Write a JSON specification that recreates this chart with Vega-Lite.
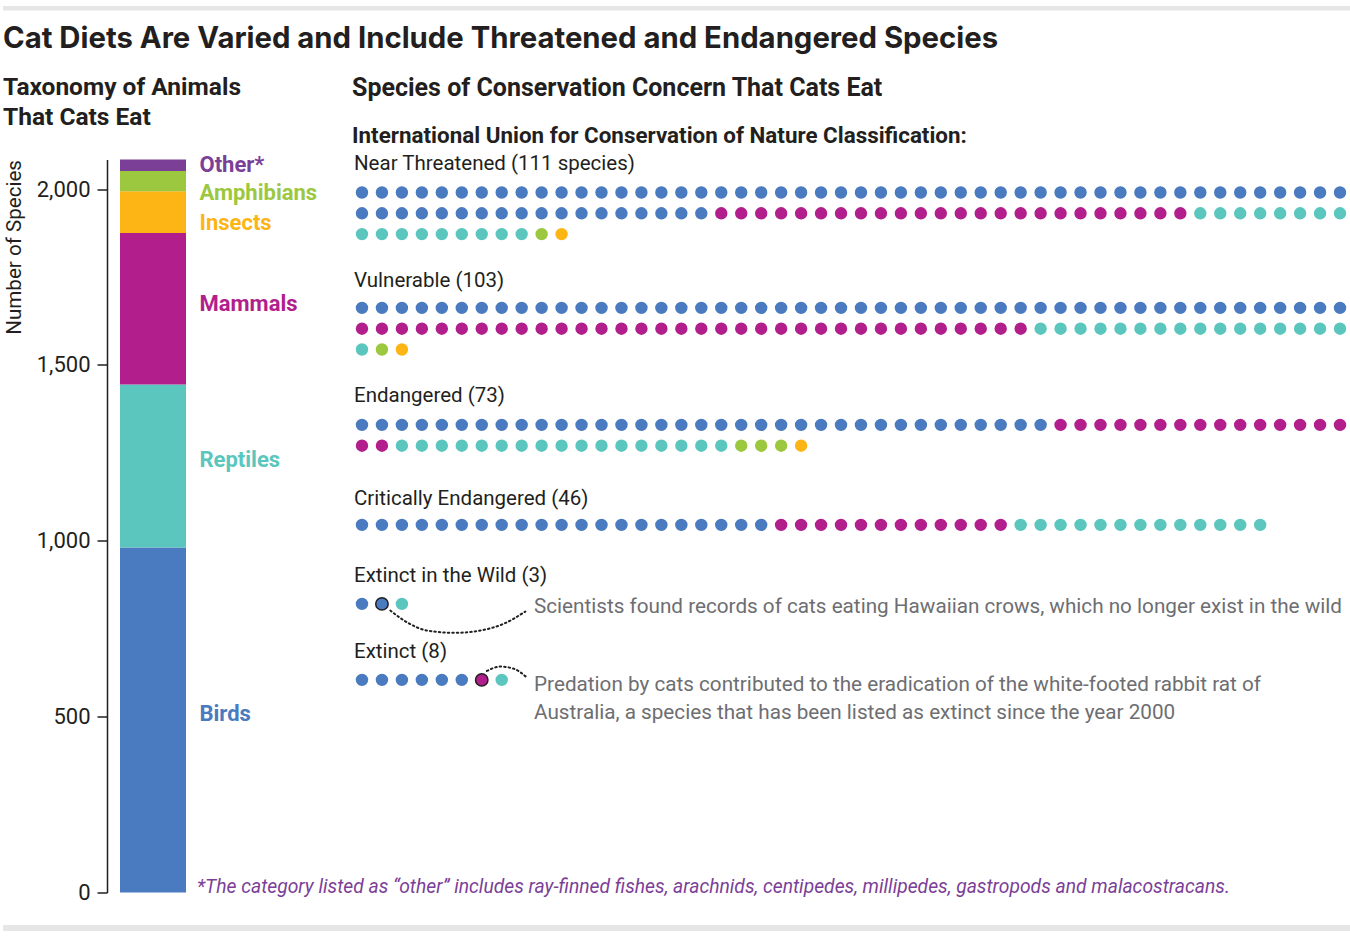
{
  "$schema": "https://vega.github.io/schema/vega-lite/v6.json",
  "background": "white",
  "padding": {"left": 3, "top": 5, "right": 0, "bottom": 0},
  "config": {"font": "Roboto", "view": {"stroke": null}},
  "spacing": 13.5,
  "datasets": {
    "taxa": [
      {"group": "Birds", "species": 981, "rank": 1},
      {"group": "Reptiles", "species": 463, "rank": 2},
      {"group": "Mammals", "species": 431, "rank": 3},
      {"group": "Insects", "species": 119, "rank": 4},
      {"group": "Amphibians", "species": 57, "rank": 5},
      {"group": "Other*", "species": 33, "rank": 6}
    ],
    "nt": [
      {"col":0,"row":0,"taxon":"Birds"},{"col":1,"row":0,"taxon":"Birds"},{"col":2,"row":0,"taxon":"Birds"},{"col":3,"row":0,"taxon":"Birds"},{"col":4,"row":0,"taxon":"Birds"},{"col":5,"row":0,"taxon":"Birds"},{"col":6,"row":0,"taxon":"Birds"},{"col":7,"row":0,"taxon":"Birds"},{"col":8,"row":0,"taxon":"Birds"},{"col":9,"row":0,"taxon":"Birds"},
      {"col":10,"row":0,"taxon":"Birds"},{"col":11,"row":0,"taxon":"Birds"},{"col":12,"row":0,"taxon":"Birds"},{"col":13,"row":0,"taxon":"Birds"},{"col":14,"row":0,"taxon":"Birds"},{"col":15,"row":0,"taxon":"Birds"},{"col":16,"row":0,"taxon":"Birds"},{"col":17,"row":0,"taxon":"Birds"},{"col":18,"row":0,"taxon":"Birds"},{"col":19,"row":0,"taxon":"Birds"},
      {"col":20,"row":0,"taxon":"Birds"},{"col":21,"row":0,"taxon":"Birds"},{"col":22,"row":0,"taxon":"Birds"},{"col":23,"row":0,"taxon":"Birds"},{"col":24,"row":0,"taxon":"Birds"},{"col":25,"row":0,"taxon":"Birds"},{"col":26,"row":0,"taxon":"Birds"},{"col":27,"row":0,"taxon":"Birds"},{"col":28,"row":0,"taxon":"Birds"},{"col":29,"row":0,"taxon":"Birds"},
      {"col":30,"row":0,"taxon":"Birds"},{"col":31,"row":0,"taxon":"Birds"},{"col":32,"row":0,"taxon":"Birds"},{"col":33,"row":0,"taxon":"Birds"},{"col":34,"row":0,"taxon":"Birds"},{"col":35,"row":0,"taxon":"Birds"},{"col":36,"row":0,"taxon":"Birds"},{"col":37,"row":0,"taxon":"Birds"},{"col":38,"row":0,"taxon":"Birds"},{"col":39,"row":0,"taxon":"Birds"},
      {"col":40,"row":0,"taxon":"Birds"},{"col":41,"row":0,"taxon":"Birds"},{"col":42,"row":0,"taxon":"Birds"},{"col":43,"row":0,"taxon":"Birds"},{"col":44,"row":0,"taxon":"Birds"},{"col":45,"row":0,"taxon":"Birds"},{"col":46,"row":0,"taxon":"Birds"},{"col":47,"row":0,"taxon":"Birds"},{"col":48,"row":0,"taxon":"Birds"},{"col":49,"row":0,"taxon":"Birds"},
      {"col":0,"row":1,"taxon":"Birds"},{"col":1,"row":1,"taxon":"Birds"},{"col":2,"row":1,"taxon":"Birds"},{"col":3,"row":1,"taxon":"Birds"},{"col":4,"row":1,"taxon":"Birds"},{"col":5,"row":1,"taxon":"Birds"},{"col":6,"row":1,"taxon":"Birds"},{"col":7,"row":1,"taxon":"Birds"},{"col":8,"row":1,"taxon":"Birds"},{"col":9,"row":1,"taxon":"Birds"},
      {"col":10,"row":1,"taxon":"Birds"},{"col":11,"row":1,"taxon":"Birds"},{"col":12,"row":1,"taxon":"Birds"},{"col":13,"row":1,"taxon":"Birds"},{"col":14,"row":1,"taxon":"Birds"},{"col":15,"row":1,"taxon":"Birds"},{"col":16,"row":1,"taxon":"Birds"},{"col":17,"row":1,"taxon":"Birds"},{"col":18,"row":1,"taxon":"Mammals"},{"col":19,"row":1,"taxon":"Mammals"},
      {"col":20,"row":1,"taxon":"Mammals"},{"col":21,"row":1,"taxon":"Mammals"},{"col":22,"row":1,"taxon":"Mammals"},{"col":23,"row":1,"taxon":"Mammals"},{"col":24,"row":1,"taxon":"Mammals"},{"col":25,"row":1,"taxon":"Mammals"},{"col":26,"row":1,"taxon":"Mammals"},{"col":27,"row":1,"taxon":"Mammals"},{"col":28,"row":1,"taxon":"Mammals"},{"col":29,"row":1,"taxon":"Mammals"},
      {"col":30,"row":1,"taxon":"Mammals"},{"col":31,"row":1,"taxon":"Mammals"},{"col":32,"row":1,"taxon":"Mammals"},{"col":33,"row":1,"taxon":"Mammals"},{"col":34,"row":1,"taxon":"Mammals"},{"col":35,"row":1,"taxon":"Mammals"},{"col":36,"row":1,"taxon":"Mammals"},{"col":37,"row":1,"taxon":"Mammals"},{"col":38,"row":1,"taxon":"Mammals"},{"col":39,"row":1,"taxon":"Mammals"},
      {"col":40,"row":1,"taxon":"Mammals"},{"col":41,"row":1,"taxon":"Mammals"},{"col":42,"row":1,"taxon":"Reptiles"},{"col":43,"row":1,"taxon":"Reptiles"},{"col":44,"row":1,"taxon":"Reptiles"},{"col":45,"row":1,"taxon":"Reptiles"},{"col":46,"row":1,"taxon":"Reptiles"},{"col":47,"row":1,"taxon":"Reptiles"},{"col":48,"row":1,"taxon":"Reptiles"},{"col":49,"row":1,"taxon":"Reptiles"},
      {"col":0,"row":2,"taxon":"Reptiles"},{"col":1,"row":2,"taxon":"Reptiles"},{"col":2,"row":2,"taxon":"Reptiles"},{"col":3,"row":2,"taxon":"Reptiles"},{"col":4,"row":2,"taxon":"Reptiles"},{"col":5,"row":2,"taxon":"Reptiles"},{"col":6,"row":2,"taxon":"Reptiles"},{"col":7,"row":2,"taxon":"Reptiles"},{"col":8,"row":2,"taxon":"Reptiles"},{"col":9,"row":2,"taxon":"Amphibians"},
      {"col":10,"row":2,"taxon":"Insects"}
    ],
    "vu": [
      {"col":0,"row":0,"taxon":"Birds"},{"col":1,"row":0,"taxon":"Birds"},{"col":2,"row":0,"taxon":"Birds"},{"col":3,"row":0,"taxon":"Birds"},{"col":4,"row":0,"taxon":"Birds"},{"col":5,"row":0,"taxon":"Birds"},{"col":6,"row":0,"taxon":"Birds"},{"col":7,"row":0,"taxon":"Birds"},{"col":8,"row":0,"taxon":"Birds"},{"col":9,"row":0,"taxon":"Birds"},
      {"col":10,"row":0,"taxon":"Birds"},{"col":11,"row":0,"taxon":"Birds"},{"col":12,"row":0,"taxon":"Birds"},{"col":13,"row":0,"taxon":"Birds"},{"col":14,"row":0,"taxon":"Birds"},{"col":15,"row":0,"taxon":"Birds"},{"col":16,"row":0,"taxon":"Birds"},{"col":17,"row":0,"taxon":"Birds"},{"col":18,"row":0,"taxon":"Birds"},{"col":19,"row":0,"taxon":"Birds"},
      {"col":20,"row":0,"taxon":"Birds"},{"col":21,"row":0,"taxon":"Birds"},{"col":22,"row":0,"taxon":"Birds"},{"col":23,"row":0,"taxon":"Birds"},{"col":24,"row":0,"taxon":"Birds"},{"col":25,"row":0,"taxon":"Birds"},{"col":26,"row":0,"taxon":"Birds"},{"col":27,"row":0,"taxon":"Birds"},{"col":28,"row":0,"taxon":"Birds"},{"col":29,"row":0,"taxon":"Birds"},
      {"col":30,"row":0,"taxon":"Birds"},{"col":31,"row":0,"taxon":"Birds"},{"col":32,"row":0,"taxon":"Birds"},{"col":33,"row":0,"taxon":"Birds"},{"col":34,"row":0,"taxon":"Birds"},{"col":35,"row":0,"taxon":"Birds"},{"col":36,"row":0,"taxon":"Birds"},{"col":37,"row":0,"taxon":"Birds"},{"col":38,"row":0,"taxon":"Birds"},{"col":39,"row":0,"taxon":"Birds"},
      {"col":40,"row":0,"taxon":"Birds"},{"col":41,"row":0,"taxon":"Birds"},{"col":42,"row":0,"taxon":"Birds"},{"col":43,"row":0,"taxon":"Birds"},{"col":44,"row":0,"taxon":"Birds"},{"col":45,"row":0,"taxon":"Birds"},{"col":46,"row":0,"taxon":"Birds"},{"col":47,"row":0,"taxon":"Birds"},{"col":48,"row":0,"taxon":"Birds"},{"col":49,"row":0,"taxon":"Birds"},
      {"col":0,"row":1,"taxon":"Mammals"},{"col":1,"row":1,"taxon":"Mammals"},{"col":2,"row":1,"taxon":"Mammals"},{"col":3,"row":1,"taxon":"Mammals"},{"col":4,"row":1,"taxon":"Mammals"},{"col":5,"row":1,"taxon":"Mammals"},{"col":6,"row":1,"taxon":"Mammals"},{"col":7,"row":1,"taxon":"Mammals"},{"col":8,"row":1,"taxon":"Mammals"},{"col":9,"row":1,"taxon":"Mammals"},
      {"col":10,"row":1,"taxon":"Mammals"},{"col":11,"row":1,"taxon":"Mammals"},{"col":12,"row":1,"taxon":"Mammals"},{"col":13,"row":1,"taxon":"Mammals"},{"col":14,"row":1,"taxon":"Mammals"},{"col":15,"row":1,"taxon":"Mammals"},{"col":16,"row":1,"taxon":"Mammals"},{"col":17,"row":1,"taxon":"Mammals"},{"col":18,"row":1,"taxon":"Mammals"},{"col":19,"row":1,"taxon":"Mammals"},
      {"col":20,"row":1,"taxon":"Mammals"},{"col":21,"row":1,"taxon":"Mammals"},{"col":22,"row":1,"taxon":"Mammals"},{"col":23,"row":1,"taxon":"Mammals"},{"col":24,"row":1,"taxon":"Mammals"},{"col":25,"row":1,"taxon":"Mammals"},{"col":26,"row":1,"taxon":"Mammals"},{"col":27,"row":1,"taxon":"Mammals"},{"col":28,"row":1,"taxon":"Mammals"},{"col":29,"row":1,"taxon":"Mammals"},
      {"col":30,"row":1,"taxon":"Mammals"},{"col":31,"row":1,"taxon":"Mammals"},{"col":32,"row":1,"taxon":"Mammals"},{"col":33,"row":1,"taxon":"Mammals"},{"col":34,"row":1,"taxon":"Reptiles"},{"col":35,"row":1,"taxon":"Reptiles"},{"col":36,"row":1,"taxon":"Reptiles"},{"col":37,"row":1,"taxon":"Reptiles"},{"col":38,"row":1,"taxon":"Reptiles"},{"col":39,"row":1,"taxon":"Reptiles"},
      {"col":40,"row":1,"taxon":"Reptiles"},{"col":41,"row":1,"taxon":"Reptiles"},{"col":42,"row":1,"taxon":"Reptiles"},{"col":43,"row":1,"taxon":"Reptiles"},{"col":44,"row":1,"taxon":"Reptiles"},{"col":45,"row":1,"taxon":"Reptiles"},{"col":46,"row":1,"taxon":"Reptiles"},{"col":47,"row":1,"taxon":"Reptiles"},{"col":48,"row":1,"taxon":"Reptiles"},{"col":49,"row":1,"taxon":"Reptiles"},
      {"col":0,"row":2,"taxon":"Reptiles"},{"col":1,"row":2,"taxon":"Amphibians"},{"col":2,"row":2,"taxon":"Insects"}
    ],
    "en": [
      {"col":0,"row":0,"taxon":"Birds"},{"col":1,"row":0,"taxon":"Birds"},{"col":2,"row":0,"taxon":"Birds"},{"col":3,"row":0,"taxon":"Birds"},{"col":4,"row":0,"taxon":"Birds"},{"col":5,"row":0,"taxon":"Birds"},{"col":6,"row":0,"taxon":"Birds"},{"col":7,"row":0,"taxon":"Birds"},{"col":8,"row":0,"taxon":"Birds"},{"col":9,"row":0,"taxon":"Birds"},
      {"col":10,"row":0,"taxon":"Birds"},{"col":11,"row":0,"taxon":"Birds"},{"col":12,"row":0,"taxon":"Birds"},{"col":13,"row":0,"taxon":"Birds"},{"col":14,"row":0,"taxon":"Birds"},{"col":15,"row":0,"taxon":"Birds"},{"col":16,"row":0,"taxon":"Birds"},{"col":17,"row":0,"taxon":"Birds"},{"col":18,"row":0,"taxon":"Birds"},{"col":19,"row":0,"taxon":"Birds"},
      {"col":20,"row":0,"taxon":"Birds"},{"col":21,"row":0,"taxon":"Birds"},{"col":22,"row":0,"taxon":"Birds"},{"col":23,"row":0,"taxon":"Birds"},{"col":24,"row":0,"taxon":"Birds"},{"col":25,"row":0,"taxon":"Birds"},{"col":26,"row":0,"taxon":"Birds"},{"col":27,"row":0,"taxon":"Birds"},{"col":28,"row":0,"taxon":"Birds"},{"col":29,"row":0,"taxon":"Birds"},
      {"col":30,"row":0,"taxon":"Birds"},{"col":31,"row":0,"taxon":"Birds"},{"col":32,"row":0,"taxon":"Birds"},{"col":33,"row":0,"taxon":"Birds"},{"col":34,"row":0,"taxon":"Birds"},{"col":35,"row":0,"taxon":"Mammals"},{"col":36,"row":0,"taxon":"Mammals"},{"col":37,"row":0,"taxon":"Mammals"},{"col":38,"row":0,"taxon":"Mammals"},{"col":39,"row":0,"taxon":"Mammals"},
      {"col":40,"row":0,"taxon":"Mammals"},{"col":41,"row":0,"taxon":"Mammals"},{"col":42,"row":0,"taxon":"Mammals"},{"col":43,"row":0,"taxon":"Mammals"},{"col":44,"row":0,"taxon":"Mammals"},{"col":45,"row":0,"taxon":"Mammals"},{"col":46,"row":0,"taxon":"Mammals"},{"col":47,"row":0,"taxon":"Mammals"},{"col":48,"row":0,"taxon":"Mammals"},{"col":49,"row":0,"taxon":"Mammals"},
      {"col":0,"row":1,"taxon":"Mammals"},{"col":1,"row":1,"taxon":"Mammals"},{"col":2,"row":1,"taxon":"Reptiles"},{"col":3,"row":1,"taxon":"Reptiles"},{"col":4,"row":1,"taxon":"Reptiles"},{"col":5,"row":1,"taxon":"Reptiles"},{"col":6,"row":1,"taxon":"Reptiles"},{"col":7,"row":1,"taxon":"Reptiles"},{"col":8,"row":1,"taxon":"Reptiles"},{"col":9,"row":1,"taxon":"Reptiles"},
      {"col":10,"row":1,"taxon":"Reptiles"},{"col":11,"row":1,"taxon":"Reptiles"},{"col":12,"row":1,"taxon":"Reptiles"},{"col":13,"row":1,"taxon":"Reptiles"},{"col":14,"row":1,"taxon":"Reptiles"},{"col":15,"row":1,"taxon":"Reptiles"},{"col":16,"row":1,"taxon":"Reptiles"},{"col":17,"row":1,"taxon":"Reptiles"},{"col":18,"row":1,"taxon":"Reptiles"},{"col":19,"row":1,"taxon":"Amphibians"},
      {"col":20,"row":1,"taxon":"Amphibians"},{"col":21,"row":1,"taxon":"Amphibians"},{"col":22,"row":1,"taxon":"Insects"}
    ],
    "cr": [
      {"col":0,"row":0,"taxon":"Birds"},{"col":1,"row":0,"taxon":"Birds"},{"col":2,"row":0,"taxon":"Birds"},{"col":3,"row":0,"taxon":"Birds"},{"col":4,"row":0,"taxon":"Birds"},{"col":5,"row":0,"taxon":"Birds"},{"col":6,"row":0,"taxon":"Birds"},{"col":7,"row":0,"taxon":"Birds"},{"col":8,"row":0,"taxon":"Birds"},{"col":9,"row":0,"taxon":"Birds"},
      {"col":10,"row":0,"taxon":"Birds"},{"col":11,"row":0,"taxon":"Birds"},{"col":12,"row":0,"taxon":"Birds"},{"col":13,"row":0,"taxon":"Birds"},{"col":14,"row":0,"taxon":"Birds"},{"col":15,"row":0,"taxon":"Birds"},{"col":16,"row":0,"taxon":"Birds"},{"col":17,"row":0,"taxon":"Birds"},{"col":18,"row":0,"taxon":"Birds"},{"col":19,"row":0,"taxon":"Birds"},
      {"col":20,"row":0,"taxon":"Birds"},{"col":21,"row":0,"taxon":"Mammals"},{"col":22,"row":0,"taxon":"Mammals"},{"col":23,"row":0,"taxon":"Mammals"},{"col":24,"row":0,"taxon":"Mammals"},{"col":25,"row":0,"taxon":"Mammals"},{"col":26,"row":0,"taxon":"Mammals"},{"col":27,"row":0,"taxon":"Mammals"},{"col":28,"row":0,"taxon":"Mammals"},{"col":29,"row":0,"taxon":"Mammals"},
      {"col":30,"row":0,"taxon":"Mammals"},{"col":31,"row":0,"taxon":"Mammals"},{"col":32,"row":0,"taxon":"Mammals"},{"col":33,"row":0,"taxon":"Reptiles"},{"col":34,"row":0,"taxon":"Reptiles"},{"col":35,"row":0,"taxon":"Reptiles"},{"col":36,"row":0,"taxon":"Reptiles"},{"col":37,"row":0,"taxon":"Reptiles"},{"col":38,"row":0,"taxon":"Reptiles"},{"col":39,"row":0,"taxon":"Reptiles"},
      {"col":40,"row":0,"taxon":"Reptiles"},{"col":41,"row":0,"taxon":"Reptiles"},{"col":42,"row":0,"taxon":"Reptiles"},{"col":43,"row":0,"taxon":"Reptiles"},{"col":44,"row":0,"taxon":"Reptiles"},{"col":45,"row":0,"taxon":"Reptiles"}
    ],
    "ew": [
      {"col":0,"row":0,"taxon":"Birds"},
      {"col":1,"row":0,"taxon":"Birds","species":"Hawaiian crow","note":"Scientists found records of cats eating Hawaiian crows, which no longer exist in the wild"},
      {"col":2,"row":0,"taxon":"Reptiles"}
    ],
    "ex": [
      {"col":0,"row":0,"taxon":"Birds"},{"col":1,"row":0,"taxon":"Birds"},{"col":2,"row":0,"taxon":"Birds"},{"col":3,"row":0,"taxon":"Birds"},{"col":4,"row":0,"taxon":"Birds"},{"col":5,"row":0,"taxon":"Birds"},
      {"col":6,"row":0,"taxon":"Mammals","species":"White-footed rabbit rat","note":"Predation by cats contributed to the eradication of the white-footed rabbit rat of\nAustralia, a species that has been listed as extinct since the year 2000"},
      {"col":7,"row":0,"taxon":"Reptiles"}
    ]
  },
  "vconcat": [
    {
      "width": 1347, "height": 4.5,
      "view": {"fill": "#e6e6e6", "stroke": null},
      "data": {"values": [{"rule": "top"}]},
      "mark": {"type": "point", "opacity": 0},
      "encoding": {}
    },
    {
      "title": {"text": "Cat Diets Are Varied and Include Threatened and Endangered Species", "anchor": "start", "frame": "bounds", "font": "Inter", "fontSize": 29.3, "fontWeight": "bold", "color": "#231f20", "offset": 20.7},
      "bounds": "flush",
      "spacing": 166,
      "hconcat": [
        {
          "width": 183,
          "height": 733,
          "title": {"text": ["Taxonomy of Animals", "That Cats Eat"], "anchor": "start", "frame": "bounds", "font": "Roboto", "fontSize": 24.5, "fontWeight": "bold", "color": "#231f20", "lineHeight": 30, "offset": 22.7},
          "data": {"name": "taxa"},
          "encoding": {
            "x": {"datum": "All prey", "type": "nominal", "scale": {"paddingInner": 0, "paddingOuter": 0.88636, "align": 1}, "axis": null}
          },
          "layer": [
            {
              "mark": {"type": "bar"},
              "encoding": {
                "y": {"field": "species", "type": "quantitative", "stack": "zero", "scale": {"domain": [0, 2084], "nice": false, "zero": true},
                  "axis": {"values": [0, 500, 1000, 1500, 2000], "format": ",d", "offset": -104, "tickSize": 10, "tickWidth": 1.5, "tickColor": "#231f20", "domainColor": "#231f20", "domainWidth": 1.5, "labelFontSize": 22, "labelColor": "#231f20", "labelPadding": 7, "grid": false, "title": "Number of Species", "titleFontSize": 20.6, "titleFontWeight": "normal", "titleColor": "#231f20", "titleAnchor": "end", "titlePadding": 12}},
                "color": {"field": "group", "type": "nominal", "scale": {"domain": ["Birds", "Reptiles", "Mammals", "Insects", "Amphibians", "Other*"], "range": ["#4a7abf", "#5bc6be", "#b21e8c", "#fdb515", "#9bc83e", "#7b3f98"]}, "legend": null},
                "order": {"field": "rank"}
              }
            },
            {
              "transform": [{"stack": "species", "groupby": [], "sort": [{"field": "rank", "order": "ascending"}], "as": ["s0", "s1"]}, {"filter": "datum.group === 'Other*'"}],
              "mark": {"type": "text", "align": "left", "baseline": "alphabetic", "dx": 46.5, "dy": 12, "fontSize": 22, "fontWeight": "bold"},
              "encoding": {"y": {"field": "s1", "type": "quantitative"}, "text": {"field": "group"}, "color": {"field": "group", "type": "nominal", "legend": null}}
            },
            {
              "transform": [{"stack": "species", "groupby": [], "sort": [{"field": "rank", "order": "ascending"}], "as": ["s0", "s1"]}, {"filter": "datum.group === 'Amphibians'"}],
              "mark": {"type": "text", "align": "left", "baseline": "alphabetic", "dx": 46.5, "dy": 29, "fontSize": 22, "fontWeight": "bold"},
              "encoding": {"y": {"field": "s1", "type": "quantitative"}, "text": {"field": "group"}, "color": {"field": "group", "type": "nominal", "legend": null}}
            },
            {
              "transform": [{"stack": "species", "groupby": [], "sort": [{"field": "rank", "order": "ascending"}], "as": ["s0", "s1"]}, {"filter": "datum.group === 'Insects'"}],
              "mark": {"type": "text", "align": "left", "baseline": "alphabetic", "dx": 46.5, "dy": 39, "fontSize": 22, "fontWeight": "bold"},
              "encoding": {"y": {"field": "s1", "type": "quantitative"}, "text": {"field": "group"}, "color": {"field": "group", "type": "nominal", "legend": null}}
            },
            {
              "transform": [{"stack": "species", "groupby": [], "sort": [{"field": "rank", "order": "ascending"}], "as": ["s0", "s1"]}, {"filter": "datum.group === 'Mammals'"}],
              "mark": {"type": "text", "align": "left", "baseline": "alphabetic", "dx": 46.5, "dy": 77.5, "fontSize": 22, "fontWeight": "bold"},
              "encoding": {"y": {"field": "s1", "type": "quantitative"}, "text": {"field": "group"}, "color": {"field": "group", "type": "nominal", "legend": null}}
            },
            {
              "transform": [{"stack": "species", "groupby": [], "sort": [{"field": "rank", "order": "ascending"}], "as": ["s0", "s1"]}, {"filter": "datum.group === 'Reptiles'"}],
              "mark": {"type": "text", "align": "left", "baseline": "alphabetic", "dx": 46.5, "dy": 82, "fontSize": 22, "fontWeight": "bold"},
              "encoding": {"y": {"field": "s1", "type": "quantitative"}, "text": {"field": "group"}, "color": {"field": "group", "type": "nominal", "legend": null}}
            },
            {
              "transform": [{"stack": "species", "groupby": [], "sort": [{"field": "rank", "order": "ascending"}], "as": ["s0", "s1"]}, {"filter": "datum.group === 'Birds'"}],
              "mark": {"type": "text", "align": "left", "baseline": "alphabetic", "dx": 46.5, "dy": 174, "fontSize": 22, "fontWeight": "bold"},
              "encoding": {"y": {"field": "s1", "type": "quantitative"}, "text": {"field": "group"}, "color": {"field": "group", "type": "nominal", "legend": null}}
            },
            {
              "data": {"values": [{"note": "*The category listed as \u201cother\u201d includes ray-finned fishes, arachnids, centipedes, millipedes, gastropods and malacostracans."}]},
              "mark": {"type": "text", "align": "left", "baseline": "alphabetic", "dx": 44, "fontSize": 19.3, "fontStyle": "italic", "color": "#7b3f98"},
              "encoding": {"y": {"datum": 0, "type": "quantitative"}, "text": {"field": "note"}}
            }
          ]
        },
        {
          "title": {"text": "Species of Conservation Concern That Cats Eat", "subtitle": "International Union for Conservation of Nature Classification:", "anchor": "start", "frame": "group", "font": "Roboto", "fontSize": 25, "fontWeight": "bold", "color": "#231f20", "subtitleFont": "Roboto", "subtitleFontSize": 22.4, "subtitleFontWeight": "bold", "subtitleColor": "#231f20", "subtitlePadding": 23.6, "offset": 6.5},
          "bounds": "flush",
          "spacing": 10,
          "vconcat": [
            {
              "width": 998, "height": 127.6,
              "title": {"text": "Near Threatened (111 species)", "anchor": "start", "frame": "group", "font": "Roboto", "fontSize": 20.5, "fontWeight": "normal", "color": "#231f20", "offset": -14.9, "dx": 2},
              "data": {"name": "nt"},
              "mark": {"type": "circle", "size": 154, "opacity": 1},
              "encoding": {
                "x": {"field": "col", "type": "quantitative", "scale": {"domain": [-0.5, 49.5], "nice": false, "zero": false}, "axis": null},
                "y": {"field": "row", "type": "quantitative", "scale": {"domain": [-1.587, 4.548], "nice": false, "zero": false, "reverse": true}, "axis": null},
                "color": {"field": "taxon", "type": "nominal", "scale": {"domain": ["Birds", "Reptiles", "Mammals", "Insects", "Amphibians", "Other*"], "range": ["#4a7abf", "#5bc6be", "#b21e8c", "#fdb515", "#9bc83e", "#7b3f98"]}, "legend": null}
              }
            },
            {
              "width": 998, "height": 106.6,
              "title": {"text": "Vulnerable (103)", "anchor": "start", "frame": "group", "font": "Roboto", "fontSize": 20.5, "fontWeight": "normal", "color": "#231f20", "offset": 6.4, "dx": 2},
              "data": {"name": "vu"},
              "mark": {"type": "circle", "size": 154, "opacity": 1},
              "encoding": {
                "x": {"field": "col", "type": "quantitative", "scale": {"domain": [-0.5, 49.5], "nice": false, "zero": false}, "axis": null},
                "y": {"field": "row", "type": "quantitative", "scale": {"domain": [-0.5, 4.625], "nice": false, "zero": false, "reverse": true}, "axis": null},
                "color": {"field": "taxon", "type": "nominal", "scale": {"domain": ["Birds", "Reptiles", "Mammals", "Insects", "Amphibians", "Other*"], "range": ["#4a7abf", "#5bc6be", "#b21e8c", "#fdb515", "#9bc83e", "#7b3f98"]}, "legend": null}
              }
            },
            {
              "width": 998, "height": 90,
              "title": {"text": "Endangered (73)", "anchor": "start", "frame": "group", "font": "Roboto", "fontSize": 20.5, "fontWeight": "normal", "color": "#231f20", "offset": 7.6, "dx": 2},
              "data": {"name": "en"},
              "mark": {"type": "circle", "size": 154, "opacity": 1},
              "encoding": {
                "x": {"field": "col", "type": "quantitative", "scale": {"domain": [-0.5, 49.5], "nice": false, "zero": false}, "axis": null},
                "y": {"field": "row", "type": "quantitative", "scale": {"domain": [-0.5, 3.827], "nice": false, "zero": false, "reverse": true}, "axis": null},
                "color": {"field": "taxon", "type": "nominal", "scale": {"domain": ["Birds", "Reptiles", "Mammals", "Insects", "Amphibians", "Other*"], "range": ["#4a7abf", "#5bc6be", "#b21e8c", "#fdb515", "#9bc83e", "#7b3f98"]}, "legend": null}
              }
            },
            {
              "width": 998, "height": 68.4,
              "title": {"text": "Critically Endangered (46)", "anchor": "start", "frame": "group", "font": "Roboto", "fontSize": 20.5, "fontWeight": "normal", "color": "#231f20", "offset": 5.5, "dx": 2},
              "data": {"name": "cr"},
              "mark": {"type": "circle", "size": 154, "opacity": 1},
              "encoding": {
                "x": {"field": "col", "type": "quantitative", "scale": {"domain": [-0.5, 49.5], "nice": false, "zero": false}, "axis": null},
                "y": {"field": "row", "type": "quantitative", "scale": {"domain": [-0.5, 2.788], "nice": false, "zero": false, "reverse": true}, "axis": null},
                "color": {"field": "taxon", "type": "nominal", "scale": {"domain": ["Birds", "Reptiles", "Mammals", "Insects", "Amphibians", "Other*"], "range": ["#4a7abf", "#5bc6be", "#b21e8c", "#fdb515", "#9bc83e", "#7b3f98"]}, "legend": null}
              }
            },
            {
              "width": 998, "height": 65.6,
              "title": {"text": "Extinct in the Wild (3)", "anchor": "start", "frame": "group", "font": "Roboto", "fontSize": 20.5, "fontWeight": "normal", "color": "#231f20", "offset": 7.4, "dx": 2},
              "encoding": {
                "x": {"field": "col", "type": "quantitative", "scale": {"domain": [-0.5, 49.5], "nice": false, "zero": false}, "axis": null},
                "y": {"field": "row", "type": "quantitative", "scale": {"domain": [-0.5, 2.654], "nice": false, "zero": false, "reverse": true}, "axis": null}
              },
              "layer": [
                {
                  "data": {"name": "ew"},
                  "mark": {"type": "circle", "size": 154, "opacity": 1, "strokeWidth": 1.5},
                  "encoding": {
                    "color": {"field": "taxon", "type": "nominal", "scale": {"domain": ["Birds", "Reptiles", "Mammals", "Insects", "Amphibians", "Other*"], "range": ["#4a7abf", "#5bc6be", "#b21e8c", "#fdb515", "#9bc83e", "#7b3f98"]}, "legend": null},
                    "stroke": {"condition": {"test": "isValid(datum.species)", "value": "#231f20"}, "value": "transparent"}
                  }
                },
                {
                  "data": {"values": [{"col": 1.42, "row": 0.32, "step": 1}, {"col": 2.25, "row": 0.88, "step": 2}, {"col": 3.26, "row": 1.28, "step": 3}, {"col": 4.67, "row": 1.39, "step": 4}, {"col": 5.93, "row": 1.28, "step": 5}, {"col": 7.09, "row": 0.96, "step": 6}, {"col": 8.18, "row": 0.37, "step": 7}]},
                  "mark": {"type": "line", "interpolate": "monotone", "strokeDash": [1.5, 3], "strokeCap": "round", "strokeWidth": 2, "color": "#231f20"},
                  "encoding": {"order": {"field": "step"}}
                },
                {
                  "data": {"name": "ew"},
                  "transform": [{"filter": "isValid(datum.note)"}],
                  "mark": {"type": "text", "align": "left", "baseline": "alphabetic", "dx": 152, "dy": 9.3, "fontSize": 20.7, "color": "#6d6e71"},
                  "encoding": {"text": {"field": "note"}}
                }
              ]
            },
            {
              "width": 998, "height": 60,
              "title": {"text": "Extinct (8)", "anchor": "start", "frame": "group", "font": "Roboto", "fontSize": 20.5, "fontWeight": "normal", "color": "#231f20", "offset": 0.2, "dx": 2},
              "encoding": {
                "x": {"field": "col", "type": "quantitative", "scale": {"domain": [-0.5, 49.5], "nice": false, "zero": false}, "axis": null},
                "y": {"field": "row", "type": "quantitative", "scale": {"domain": [-0.5, 2.385], "nice": false, "zero": false, "reverse": true}, "axis": null}
              },
              "layer": [
                {
                  "data": {"name": "ex"},
                  "mark": {"type": "circle", "size": 154, "opacity": 1, "strokeWidth": 1.5},
                  "encoding": {
                    "color": {"field": "taxon", "type": "nominal", "scale": {"domain": ["Birds", "Reptiles", "Mammals", "Insects", "Amphibians", "Other*"], "range": ["#4a7abf", "#5bc6be", "#b21e8c", "#fdb515", "#9bc83e", "#7b3f98"]}, "legend": null},
                    "stroke": {"condition": {"test": "isValid(datum.species)", "value": "#231f20"}, "value": "transparent"}
                  }
                },
                {
                  "data": {"values": [{"col": 6.26, "row": -0.43, "step": 1}, {"col": 6.93, "row": -0.64, "step": 2}, {"col": 7.6, "row": -0.54, "step": 3}, {"col": 8.27, "row": -0.11, "step": 4}]},
                  "mark": {"type": "line", "interpolate": "monotone", "strokeDash": [1.5, 3], "strokeCap": "round", "strokeWidth": 2, "color": "#231f20"},
                  "encoding": {"order": {"field": "step"}}
                },
                {
                  "data": {"name": "ex"},
                  "transform": [{"filter": "isValid(datum.note)"}],
                  "mark": {"type": "text", "align": "left", "baseline": "alphabetic", "dx": 52.3, "dy": 10.7, "fontSize": 20.7, "color": "#6d6e71", "lineBreak": "\n", "lineHeight": 28.7},
                  "encoding": {"text": {"field": "note"}}
                }
              ]
            }
          ]
        }
      ]
    },
    {
      "width": 1347, "height": 6,
      "title": {"text": " ", "fontSize": 1, "offset": 7},
      "view": {"fill": "#e6e6e6", "stroke": null},
      "data": {"values": [{"rule": "bottom"}]},
      "mark": {"type": "point", "opacity": 0},
      "encoding": {}
    }
  ]
}
